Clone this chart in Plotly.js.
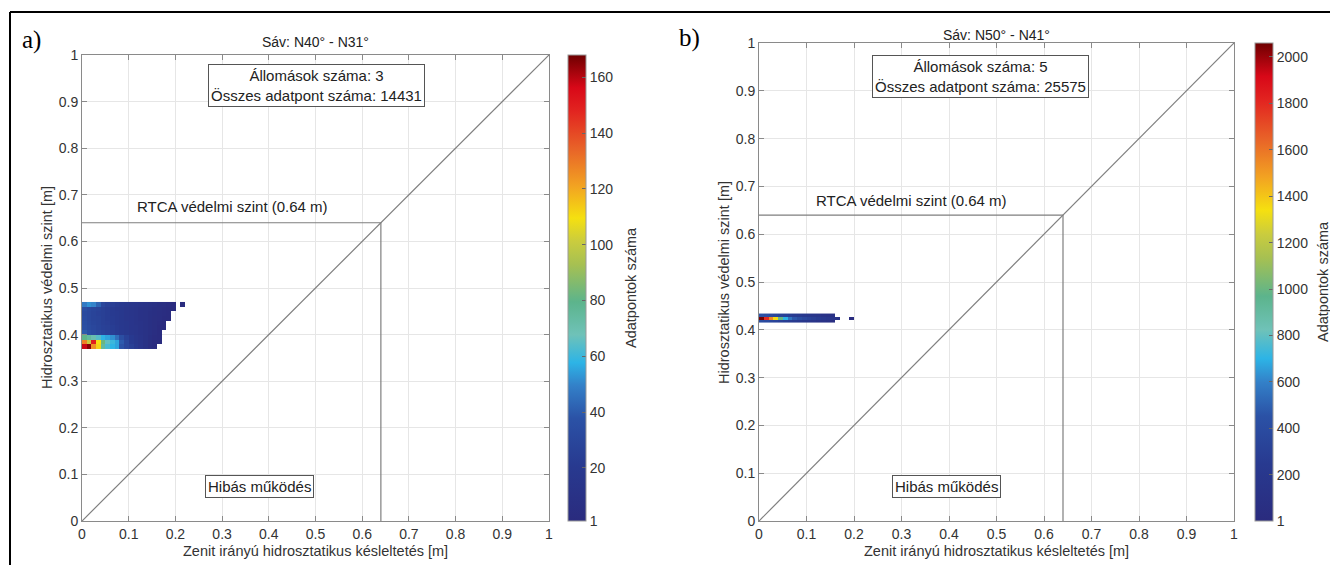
<!DOCTYPE html>
<html>
<head>
<meta charset="utf-8">
<script src="https://cdn.plot.ly/plotly-3.0.1.min.js"></script>
<style>html,body{margin:0;padding:0;background:#fff;}#chart{width:1330px;height:565px;}</style>
</head>
<body>
<div id="chart"></div>
<script>
// ---------- DATA ----------
const panelLabels = ["a)", "b)"];
const panelTitles = ["Sáv: N40° - N31°", "Sáv: N50° - N41°"];
const stationCounts = [3, 5];
const pointCounts = [14431, 25575];
const rtcaLevel = 0.64;
const diagX = [0, 1];
const diagY = [0, 1];
const axisTicks = [0, 0.1, 0.2, 0.3, 0.4, 0.5, 0.6, 0.7, 0.8, 0.9, 1];
const xTitle = "Zenit irányú hidrosztatikus késleltetés [m]";
const yTitle = "Hidrosztatikus védelmi szint [m]";
const cbTitle = "Adatpontok száma";
const rtcaText = "RTCA védelmi szint (0.64 m)";
const failText = "Hibás működés";

// panel a) 2-D histogram (bin centres, counts)
const aX = [0.005,0.015,0.025,0.035,0.045,0.055,0.065,0.075,0.085,0.095,0.105,0.115,0.125,0.135,0.145,0.155,0.165,0.175,0.185,0.195,0.205,0.215];
const aY = [0.375,0.385,0.395,0.405,0.415,0.425,0.435,0.445,0.455,0.465];
const aZ = [
 [158,165,125,112,75,62,58,55,38,30,25,20,15,10,5,3,null,null,null,null,null,null],
 [128,100,150,110,82,66,60,55,40,30,22,18,14,10,6,3,2,null,null,null,null,null],
 [80,75,70,64,58,55,52,45,35,26,20,16,13,10,7,4,3,null,null,null,null,null],
 [40,36,33,30,28,26,24,22,20,18,16,14,12,10,8,5,3,null,null,null,null,null],
 [35,32,30,28,26,25,23,21,19,17,15,14,12,10,8,6,3,2,null,null,null,null],
 [34,31,29,27,25,24,22,20,18,17,15,13,12,10,8,6,4,2,null,null,null,null],
 [33,30,28,27,25,23,22,20,18,16,15,13,11,10,8,6,5,3,2,null,null,null],
 [32,30,28,26,25,23,21,20,18,16,14,13,11,10,8,7,5,4,3,null,null,null],
 [34,31,29,27,25,23,21,19,18,16,14,13,11,10,9,7,6,4,3,2,null,null],
 [48,52,50,42,30,26,24,22,20,18,16,15,13,12,10,9,7,6,4,3,null,2]
];

// panel b) 2-D histogram
const bX = [0.005,0.015,0.025,0.035,0.045,0.055,0.065,0.075,0.085,0.095,0.105,0.115,0.125,0.135,0.145,0.155,0.165,0.175,0.185,0.195];
const bY = [0.419,0.425,0.431];
const bZ = [
 [400,380,350,330,300,280,260,240,220,200,180,160,140,120,100,60,null,null,null,null],
 [2050,1800,1550,1350,1000,700,560,470,410,360,320,290,260,230,200,170,130,null,null,10],
 [450,420,380,350,320,300,280,260,240,220,200,180,160,140,120,100,null,null,null,null]
];

const aCbTicks = [1,20,40,60,80,100,120,140,160];
const bCbTicks = [1,200,400,600,800,1000,1200,1400,1600,1800,2000];
const aCbMax = 168;
const bCbMax = 2060;

// ---------- STYLE ----------
const W = 1330, H = 565;
const px = v => v / W;
const py = v => (H - v) / H;
const FONT = "Liberation Sans, Arial, sans-serif";
const colorscale = [
 [0.00,'#2a2b7e'],[0.12,'#283a90'],[0.22,'#2b52a6'],[0.29,'#3380c8'],[0.34,'#2db4e6'],
 [0.40,'#6fc2b8'],[0.47,'#5cb48c'],[0.55,'#a6c052'],[0.60,'#cacc3e'],[0.65,'#f5e010'],
 [0.72,'#f2a222'],[0.80,'#e86228'],[0.88,'#e22420'],[0.93,'#d80818'],[1.00,'#6e0000']
];

const dom = [
 {x:[px(82),px(549)], y:[py(521),py(55)]},
 {x:[px(759),px(1234)], y:[py(521),py(43)]}
];

function axisBase(d, anchor){
 return {
  domain: d, range:[0,1], anchor: anchor, tickvals: axisTicks,
  ticks:'inside', ticklen:5, tickcolor:'#8a8a8a', showline:true, linecolor:'#8a8a8a', linewidth:1,
  mirror:'allticks', showgrid:true, gridcolor:'#e6e6e6', zeroline:false,
  tickfont:{family:FONT, size:14, color:'#333'}, automargin:false, fixedrange:true
 };
}

const traces = [];
[[aX,aY,aZ,aCbMax,aCbTicks,0],[bX,bY,bZ,bCbMax,bCbTicks,1]].forEach(([x,y,z,zmax,tv,i])=>{
 const xa = i===0?'x':'x2', ya = i===0?'y':'y2';
 traces.push({type:'scatter', mode:'lines', x:diagX, y:diagY, xaxis:xa, yaxis:ya,
  line:{color:'#7f7f7f', width:1.2}, hoverinfo:'skip', showlegend:false});
 traces.push({type:'scatter', mode:'lines', x:[0, rtcaLevel, rtcaLevel], y:[rtcaLevel, rtcaLevel, 0],
  xaxis:xa, yaxis:ya, line:{color:'#7f7f7f', width:1.2}, hoverinfo:'skip', showlegend:false});
 traces.push({type:'heatmap', x:x, y:y, z:z, xaxis:xa, yaxis:ya, zmin:1, zmax:zmax,
  colorscale:colorscale, hoverongaps:false, showscale:true,
  colorbar:{
   x: i===0?px(568):px(1255), xanchor:'left', xpad:0, ypad:0,
   y: py(521), yanchor:'bottom', lenmode:'fraction', len: i===0?(521-55)/H:(521-43)/H,
   thickness:18, thicknessmode:'pixels', outlinecolor:'#9a9a9a', outlinewidth:1,
   tickvals: tv, ticks:'inside', ticklen:4, tickcolor:'#666',
   tickfont:{family:FONT, size:14, color:'#333'}
  }});
});

const ann = [];
const shapes = [];
[0,1].forEach(i=>{
 const xr = i===0?'x':'x2', yr = i===0?'y':'y2';
 const d = dom[i];
 const xl = d.x[0]*W;
 // panel label
 ann.push({xref:'paper', yref:'paper', x:px(i===0?20:677), y:py(i===0?40:38), xanchor:'left', yanchor:'middle',
  text:panelLabels[i], showarrow:false, font:{family:'Liberation Serif, Times New Roman, serif', size:25, color:'#000'}});
 // title
 ann.push({xref:'paper', yref:'paper', x:(d.x[0]+d.x[1])/2, y:py(i===0?42:35), xanchor:'center', yanchor:'middle',
  text:panelTitles[i], showarrow:false, font:{family:FONT, size:14, color:'#222'}});
 // axis titles
 ann.push({xref:'paper', yref:'paper', x:(d.x[0]+d.x[1])/2, y:py(551), xanchor:'center', yanchor:'middle',
  text:xTitle, showarrow:false, font:{family:FONT, size:14.5, color:'#333'}});
 ann.push({xref:'paper', yref:'paper', x:px(xl-35), y:(d.y[0]+d.y[1])/2, xanchor:'center', yanchor:'middle',
  text:yTitle, textangle:-90, showarrow:false, font:{family:FONT, size:14.5, color:'#333'}});
 // colorbar title
 ann.push({xref:'paper', yref:'paper', x:px(i===0?631:1323), y:(d.y[0]+d.y[1])/2, xanchor:'center', yanchor:'middle',
  text:cbTitle, textangle:-90, showarrow:false, font:{family:FONT, size:14.5, color:'#333'}});
 // info box
 ann.push({xref:xr, yref:yr, x:i===0?0.503:0.467, y:i===0?0.935:0.929, xanchor:'center', yanchor:'middle',
  text:'Állomások száma: '+stationCounts[i]+'<br>Összes adatpont száma: '+pointCounts[i],
  showarrow:false, bgcolor:'#fff', bordercolor:'#555', borderwidth:1, borderpad:2,
  font:{family:FONT, size:15, color:'#222'}});
 // RTCA text
 ann.push({xref:xr, yref:yr, x:i===0?0.323:0.32, y:i===0?0.675:0.67, xanchor:'center', yanchor:'middle',
  text:rtcaText, showarrow:false, font:{family:FONT, size:15, color:'#222'}});
 // fail box
 ann.push({xref:xr, yref:yr, x:i===0?0.381:0.394, y:0.073, xanchor:'center', yanchor:'middle',
  text:failText, showarrow:false, bgcolor:'#fff', bordercolor:'#555', borderwidth:1, borderpad:2,
  font:{family:FONT, size:15, color:'#222'}});
});
// outer frame
shapes.push({type:'line', xref:'paper', yref:'paper', x0:px(10), x1:1, y0:py(12), y1:py(12), line:{color:'#000', width:2}});
shapes.push({type:'line', xref:'paper', yref:'paper', x0:px(10), x1:px(10), y0:py(12), y1:0, line:{color:'#000', width:2}});

const layout = {
 width:W, height:H, margin:{l:0,r:0,t:0,b:0}, paper_bgcolor:'#fff', plot_bgcolor:'#fff',
 showlegend:false,
 xaxis: axisBase(dom[0].x, 'y'),
 yaxis: axisBase(dom[0].y, 'x'),
 xaxis2: axisBase(dom[1].x, 'y2'),
 yaxis2: axisBase(dom[1].y, 'x2'),
 annotations: ann, shapes: shapes
};
Plotly.newPlot('chart', traces, layout, {displayModeBar:false, staticPlot:true});
</script>
</body>
</html>
